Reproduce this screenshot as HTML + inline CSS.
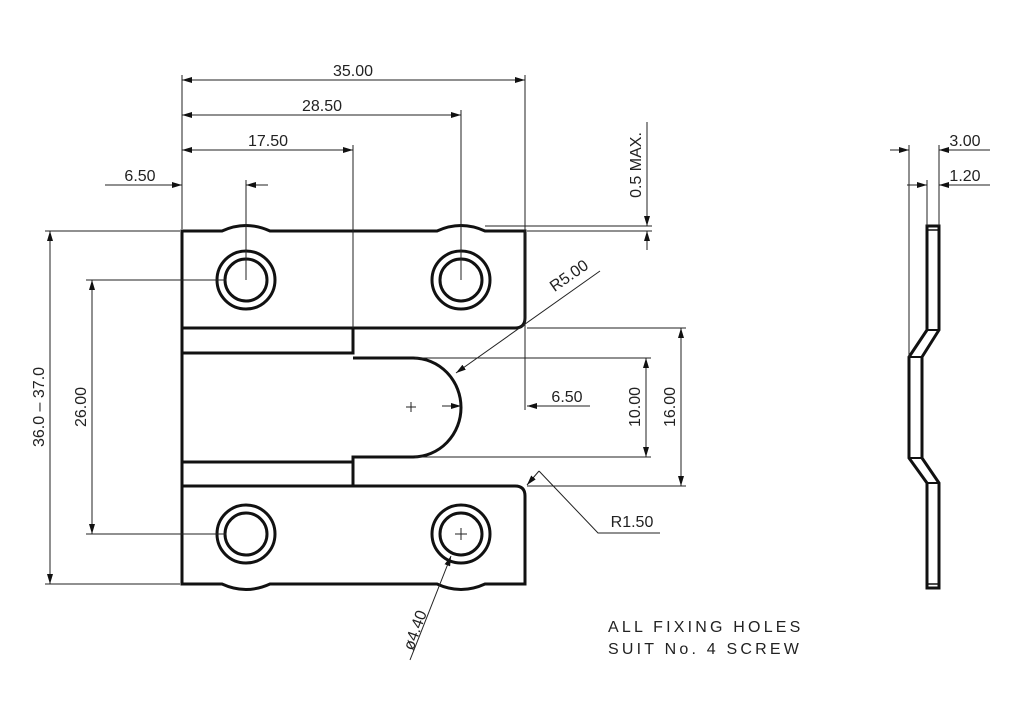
<!DOCTYPE html>
<html><head><meta charset="utf-8"><style>
html,body{margin:0;padding:0;background:#fff;}
svg{display:block;}
text{font-family:"Liberation Sans",sans-serif;font-size:16px;fill:#222;}
</style></head><body>
<svg width="1024" height="724" viewBox="0 0 1024 724" xmlns="http://www.w3.org/2000/svg">
<defs>
<marker id="a" viewBox="0 0 10 6" refX="10" refY="3" markerWidth="10" markerHeight="6" orient="auto-start-reverse" markerUnits="userSpaceOnUse">
<path d="M0,0 L10,3 L0,6 z" fill="#111"/></marker>
</defs>
<g fill="none" stroke="#111" stroke-width="3">
<path d="M182,231 H222 Q246,220 270,231 H437 Q461,220 485,231 H525 V318 Q525,328 515,328 H182 Z"/>
<path d="M182,486 H515 Q525,486 525,496 V584 H485 Q461,595 437,584 H270 Q246,595 222,584 H182 Z"/>
<line x1="182" y1="231" x2="182" y2="584"/>
<path d="M182,353 H353 V328"/>
<path d="M353,358 H413 A48,49.5 0 0 1 413,457 H353 V486"/>
<path d="M182,462 H353"/>
<circle cx="246" cy="280" r="29"/><circle cx="246" cy="280" r="21"/>
<circle cx="461" cy="280" r="29"/><circle cx="461" cy="280" r="21"/>
<circle cx="246" cy="534" r="29"/><circle cx="246" cy="534" r="21"/>
<circle cx="461" cy="534" r="29"/><circle cx="461" cy="534" r="21"/>
<path d="M927,226 H939 V330 L922,357 V458 L939,483 V588 H927 V483 L909,458 V357 L927,330 Z"/>
<line x1="927" y1="330" x2="939" y2="330" stroke-width="2"/>
<line x1="909" y1="357" x2="922" y2="357" stroke-width="2"/>
<line x1="909" y1="458" x2="922" y2="458" stroke-width="2"/>
<line x1="927" y1="483" x2="939" y2="483" stroke-width="2"/>
<line x1="927" y1="230" x2="939" y2="230" stroke-width="1.5"/>
<line x1="927" y1="584" x2="939" y2="584" stroke-width="1.5"/>
</g>
<g fill="none" stroke="#222" stroke-width="1">
<line x1="182" y1="75" x2="182" y2="229"/>
<line x1="525" y1="75" x2="525" y2="410"/>
<line x1="461" y1="110" x2="461" y2="280"/>
<line x1="353" y1="145" x2="353" y2="328"/>
<line x1="246" y1="180" x2="246" y2="280"/>
<line x1="182" y1="80" x2="525" y2="80" marker-start="url(#a)" marker-end="url(#a)"/>
<line x1="182" y1="115" x2="461" y2="115" marker-start="url(#a)" marker-end="url(#a)"/>
<line x1="182" y1="150" x2="353" y2="150" marker-start="url(#a)" marker-end="url(#a)"/>
<line x1="105" y1="185" x2="182" y2="185" marker-end="url(#a)"/>
<line x1="268" y1="185" x2="246" y2="185" marker-end="url(#a)"/>
<line x1="45" y1="231" x2="180" y2="231"/>
<line x1="45" y1="584" x2="180" y2="584"/>
<line x1="50" y1="231" x2="50" y2="584" marker-start="url(#a)" marker-end="url(#a)"/>
<line x1="86" y1="280" x2="226" y2="280"/>
<line x1="86" y1="534" x2="226" y2="534"/>
<line x1="92" y1="280" x2="92" y2="534" marker-start="url(#a)" marker-end="url(#a)"/>
<line x1="485" y1="226" x2="652" y2="226"/>
<line x1="527" y1="231" x2="652" y2="231"/>
<line x1="647" y1="122" x2="647" y2="226" marker-end="url(#a)"/>
<line x1="647" y1="250" x2="647" y2="231" marker-end="url(#a)"/>
<line x1="527" y1="328" x2="686" y2="328"/>
<line x1="527" y1="486" x2="686" y2="486"/>
<line x1="681" y1="328" x2="681" y2="486" marker-start="url(#a)" marker-end="url(#a)"/>
<line x1="415" y1="358" x2="651" y2="358"/>
<line x1="415" y1="457" x2="651" y2="457"/>
<line x1="646" y1="358" x2="646" y2="457" marker-start="url(#a)" marker-end="url(#a)"/>
<line x1="590" y1="406" x2="527" y2="406" marker-end="url(#a)"/>
<line x1="442" y1="406" x2="461" y2="406" marker-end="url(#a)"/>
<line x1="600" y1="271" x2="456" y2="373" marker-end="url(#a)"/>
<polyline points="660,533 598,533 539,471"/>
<line x1="539" y1="471" x2="527" y2="485" marker-end="url(#a)"/>
<line x1="410" y1="660" x2="451" y2="556" marker-end="url(#a)"/>
<line x1="406" y1="407" x2="416" y2="407"/><line x1="411" y1="402" x2="411" y2="412"/>
<line x1="455" y1="534" x2="467" y2="534"/><line x1="461" y1="528" x2="461" y2="540"/>
<line x1="909" y1="145" x2="909" y2="357"/>
<line x1="939" y1="145" x2="939" y2="226"/>
<line x1="927" y1="180" x2="927" y2="226"/>
<line x1="890" y1="150" x2="909" y2="150" marker-end="url(#a)"/>
<line x1="990" y1="150" x2="939" y2="150" marker-end="url(#a)"/>
<line x1="907" y1="185" x2="927" y2="185" marker-end="url(#a)"/>
<line x1="990" y1="185" x2="939" y2="185" marker-end="url(#a)"/>
</g>
<g>
<text x="353" y="76" text-anchor="middle">35.00</text>
<text x="322" y="111" text-anchor="middle">28.50</text>
<text x="268" y="146" text-anchor="middle">17.50</text>
<text x="140" y="181" text-anchor="middle">6.50</text>
<text x="567" y="402" text-anchor="middle">6.50</text>
<text x="965" y="146" text-anchor="middle">3.00</text>
<text x="965" y="181" text-anchor="middle">1.20</text>
<text transform="translate(641,165) rotate(-90)" text-anchor="middle">0.5  MAX.</text>
<text transform="translate(44,407) rotate(-90)" text-anchor="middle">36.0  –  37.0</text>
<text transform="translate(86,407) rotate(-90)" text-anchor="middle">26.00</text>
<text transform="translate(640,407) rotate(-90)" text-anchor="middle">10.00</text>
<text transform="translate(675,407) rotate(-90)" text-anchor="middle">16.00</text>
<text transform="translate(572,280) rotate(-35)" text-anchor="middle">R5.00</text>
<text x="632" y="527" text-anchor="middle">R1.50</text>
<text transform="translate(420,632) rotate(-70)" text-anchor="middle">ø4.40</text>
<text x="608" y="632" letter-spacing="3.2">ALL FIXING HOLES</text>
<text x="608" y="654" letter-spacing="3.2">SUIT No. 4 SCREW</text>
</g>
</svg>
</body></html>
